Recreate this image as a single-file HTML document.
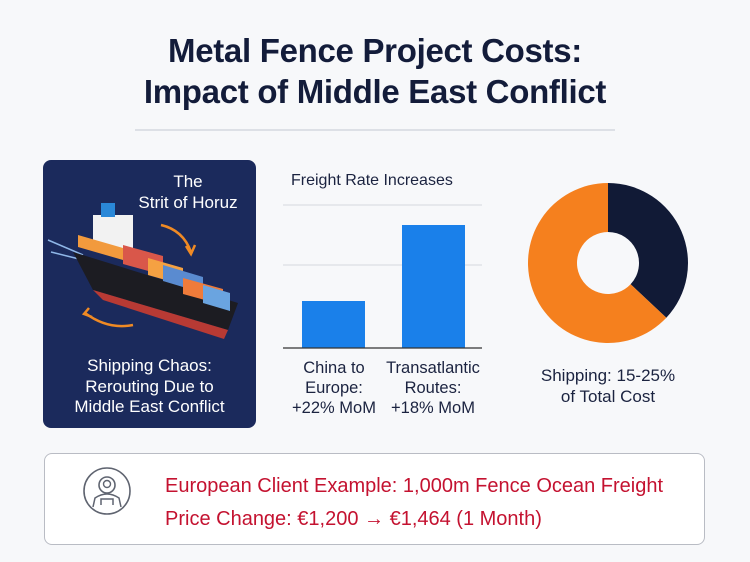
<!DOCTYPE html>
<html><head><meta charset="utf-8">
<style>
body{margin:0;width:750px;height:562px;background:#f7f8fa;font-family:"Liberation Sans",sans-serif;overflow:hidden;position:relative}
.abs{position:absolute}
.title{left:0;width:750px;top:30px;text-align:center;font-size:33px;font-weight:bold;color:#131c3a;line-height:41px;letter-spacing:-0.3px}
</style></head><body>
<div class="abs title">Metal Fence Project Costs:<br>Impact of Middle East Conflict</div>
<div class="abs" style="left:135px;top:129px;width:480px;height:2px;background:#dde0e6"></div>

<div class="abs" style="left:43px;top:160px;width:213px;height:268px;background:#1b2a5c;border-radius:8px;overflow:hidden">
  <div class="abs" style="left:78px;top:11px;width:134px;text-align:center;color:#fff;font-size:17px;line-height:21px">The<br>Strit of Horuz</div>
  <svg class="abs" style="left:0;top:0" width="213" height="268">
    <path d="M118 65 Q140 70 148 92" stroke="#f08a24" stroke-width="2.5" fill="none"/>
    <path d="M143 86 L148 94 L152 85" stroke="#f08a24" stroke-width="2.5" fill="none"/>
    <path d="M90 165 Q65 170 42 153" stroke="#f08a24" stroke-width="2.5" fill="none"/>
    <path d="M46 148 L41 154 L49 157" stroke="#f08a24" stroke-width="2.5" fill="none"/>
    <path d="M5 80 L40 95 M8 92 L40 100" stroke="#8fb7e8" stroke-width="1.5"/>
    <path d="M30 92 L195 143 L185 170 L50 130 Z" fill="#1c1c22"/>
    <path d="M50 130 L185 170 L181 179 L60 140 Z" fill="#b83a34"/>
    <rect x="50" y="55" width="40" height="35" fill="#f2f2f2"/>
    <rect x="58" y="43" width="14" height="14" fill="#2a88d8"/>
    <path d="M35 75 L80 88 L80 100 L35 87 Z" fill="#f29a3d"/>
    <path d="M80 85 L120 96 L120 115 L80 104 Z" fill="#d9574a"/>
    <path d="M105 98 L140 108 L140 125 L105 115 Z" fill="#f5a142"/>
    <path d="M120 105 L160 117 L160 133 L120 121 Z" fill="#5a8bd0"/>
    <path d="M140 118 L180 129 L180 145 L140 134 Z" fill="#ef7b3a"/>
    <path d="M160 125 L187 133 L187 151 L160 143 Z" fill="#6aa4e0"/>
  </svg>
  <div class="abs" style="left:0;top:196px;width:213px;text-align:center;color:#fff;font-size:17px;line-height:20.5px">Shipping Chaos:<br>Rerouting Due to<br>Middle East Conflict</div>
</div>

<div class="abs" style="left:291px;top:172px;font-size:16px;color:#1b2340">Freight Rate Increases</div>
<svg class="abs" id="bars" style="left:0;top:0" width="750" height="562"></svg>
<div class="abs" style="left:284px;top:358px;width:100px;text-align:center;font-size:16.5px;line-height:20px;color:#1b2340">China to<br>Europe:<br>+22% MoM</div>
<div class="abs" style="left:378px;top:358px;width:110px;text-align:center;font-size:16.5px;line-height:20px;color:#1b2340">Transatlantic<br>Routes:<br>+18% MoM</div>

<svg class="abs" id="donut" style="left:0;top:0" width="750" height="562"></svg>
<div class="abs" style="left:513px;top:365px;width:190px;text-align:center;font-size:17px;line-height:21px;color:#1b2340">Shipping: 15-25%<br>of Total Cost</div>

<div class="abs" style="left:44px;top:453px;width:661px;height:92px;background:#fff;border:1px solid #b9bcc4;border-radius:8px;box-sizing:border-box">
  <svg class="abs" style="left:36px;top:11px" width="52" height="52">
    <circle cx="26" cy="26" r="23" fill="none" stroke="#5f6470" stroke-width="1.6"/>
    <circle cx="26" cy="20" r="8" fill="none" stroke="#5f6470" stroke-width="1.6"/>
    <circle cx="26" cy="19" r="3.5" fill="none" stroke="#5f6470" stroke-width="1.4"/>
    <path d="M12 42 L14 33 Q26 25 38 33 L40 42 M20 40 L20 34 L32 34 L32 40" fill="none" stroke="#5f6470" stroke-width="1.5"/>
  </svg>
  <div class="abs" style="left:120px;top:16px;font-size:20px;line-height:33px;color:#c41230">European Client Example: 1,000m Fence Ocean Freight<br>Price Change: €1,200 → €1,464 (1 Month)</div>
</div>

<script>
const categories=["China to Europe","Transatlantic Routes"];
const barValues=[47,123];
const gridValues=[83,143];
const donutLabels=["Other","Shipping"];
const donutValues=[37,63];
const NS="http://www.w3.org/2000/svg";
const y=v=>348-v*(143/143);
const xBand=i=>302+i*100;
const bs=document.getElementById('bars');
gridValues.forEach((g,i)=>{const l=document.createElementNS(NS,'line');
l.setAttribute('x1',283);l.setAttribute('x2',482);l.setAttribute('y1',y(g));l.setAttribute('y2',y(g));
l.setAttribute('stroke','#dcdfe4');l.setAttribute('stroke-width',1.2);


bs.appendChild(l);});
barValues.forEach((v,i)=>{const r=document.createElementNS(NS,'rect');
r.setAttribute('x',xBand(i));r.setAttribute('width',63);r.setAttribute('y',y(v));r.setAttribute('height',348-y(v));
r.setAttribute('fill','#1a80ea');


bs.appendChild(r);});
const ax=document.createElementNS(NS,'line');
ax.setAttribute('x1',283);ax.setAttribute('x2',482);ax.setAttribute('y1',348);ax.setAttribute('y2',348);ax.setAttribute('stroke','#333');ax.setAttribute('stroke-width',1.3);


bs.appendChild(ax);
const ds=document.getElementById('donut');
const cx=608,cy=263,R=80,r0=31,colors=["#111a36","#f5801e"];
const tot=donutValues.reduce((a,b)=>a+b,0);let a0=0;
donutValues.forEach((v,i)=>{const a1=a0+v/tot*2*Math.PI;
const p=(a,rr)=>[cx+rr*Math.sin(a),cy-rr*Math.cos(a)];
const [x0,y0]=p(a0,R),[x1,y1]=p(a1,R),[x2,y2]=p(a1,r0),[x3,y3]=p(a0,r0);const lg=(a1-a0)>Math.PI?1:0;
const path=document.createElementNS(NS,'path');
path.setAttribute('d',`M${x0} ${y0} A${R} ${R} 0 ${lg} 1 ${x1} ${y1} L${x2} ${y2} A${r0} ${r0} 0 ${lg} 0 ${x3} ${y3} Z`);
path.setAttribute('fill',colors[i]);


ds.appendChild(path);a0=a1;});
</script>
</body></html>
